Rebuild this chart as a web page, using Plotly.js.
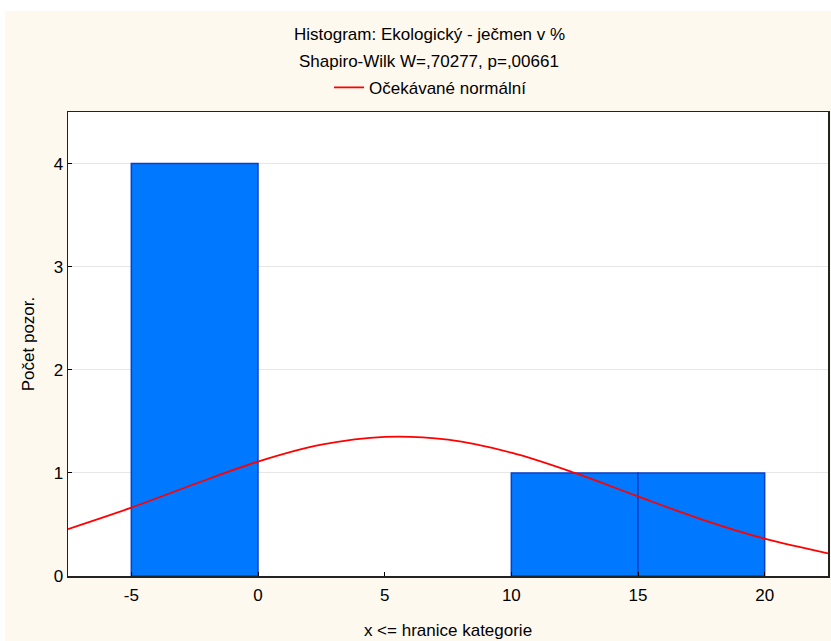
<!DOCTYPE html>
<html><head><meta charset="utf-8">
<script src="https://cdn.plot.ly/plotly-3.0.1.min.js"></script>
<style>body{margin:0;background:#fff;} #c{position:absolute;left:5px;top:11px;width:826px;height:630px;}</style>
</head><body><div id="c"></div>
<script>
const binCenters = [-2.5, 2.5, 7.5, 12.5, 17.5];
const binCounts = [4, 0, 0, 1, 1];
const normX = [-7.5, -5, -2.5, 0, 2.5, 5, 7.5, 10, 12.5, 15, 17.5, 20, 22.5];
const normY = [0.455, 0.663, 0.892, 1.109, 1.273, 1.350, 1.322, 1.196, 1.000, 0.772, 0.550, 0.362, 0.22];
const xTicks = [-5, 0, 5, 10, 15, 20];
const xTickText = ['-5', '0', '5', '10', '15', '20'];
const yTicks = [0, 1, 2, 3, 4];
const titleLine1 = 'Histogram: Ekologický - ječmen v %';
const titleLine2 = 'Shapiro-Wilk W=,70277, p=,00661';
const legendName = 'Očekávané normální';

const font = "'Liberation Sans', Arial, sans-serif";
const traces = [
  {type:'bar', x:binCenters, y:binCounts, width:5, showlegend:false,
   marker:{color:'#0078FF', line:{color:'#0A3FC8', width:binCounts.map(c => c > 0 ? 1.5 : 0)}}, hoverinfo:'skip'},
  {type:'scatter', mode:'lines', x:normX, y:normY, name:legendName, line:{color:'#FF0000', width:1.8, shape:'spline'}}
];
const layout = {
  width:826, height:630,
  margin:{l:63, r:3, t:101, b:65},
  paper_bgcolor:'#FEF9EF', plot_bgcolor:'#FFFFFF',
  font:{family:font, size:17, color:'#000'},
  showlegend:true,
  legend:{orientation:'h', x:0.477, xanchor:'center', y:1.052, yanchor:'middle', bgcolor:'rgba(0,0,0,0)', font:{size:17}},
  xaxis:{range:[-7.5,22.5], tickvals:xTicks, ticktext:xTickText, ticks:'inside', ticklen:4, tickcolor:'#000',
         ticklabelstandoff:3,
         showgrid:false, zeroline:false, showline:true, linecolor:'#222', linewidth:1.5, mirror:true,
         title:{text:'x <= hranice kategorie', standoff:20, font:{size:17}}},
  yaxis:{range:[0,4.5], tickvals:yTicks, ticks:'inside', ticklen:4, tickcolor:'#000',
         showgrid:true, gridcolor:'#E6E6E6', zeroline:false, showline:true, linecolor:'#222', linewidth:1.5, mirror:true,
         title:{text:'Počet pozor.', standoff:14, font:{size:17}}},
  bargap:0,
  annotations:[
    {text:titleLine1, xref:'paper', yref:'paper', x:0.475, y:1.166, showarrow:false, yanchor:'middle', font:{size:17}},
    {text:titleLine2, xref:'paper', yref:'paper', x:0.475, y:1.108, showarrow:false, yanchor:'middle', font:{size:17}}
  ]
};
Plotly.newPlot('c', traces, layout, {displayModeBar:false, staticPlot:true});
</script></body></html>
